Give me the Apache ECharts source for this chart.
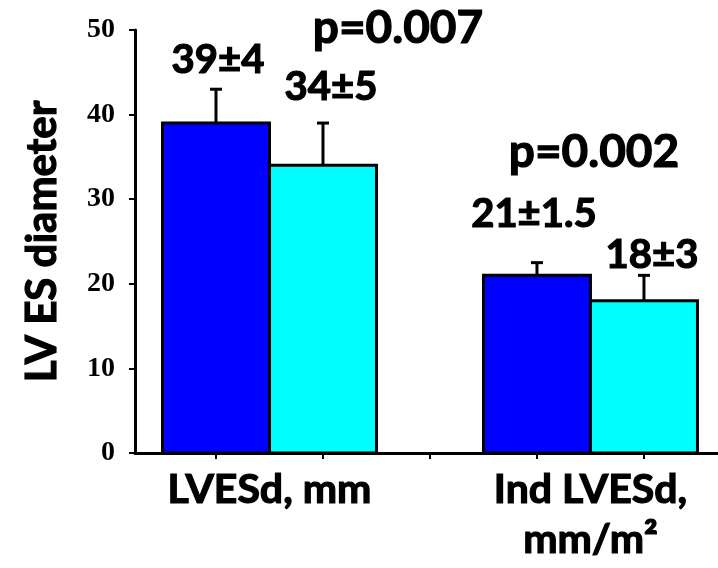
<!DOCTYPE html>
<html>
<head>
<meta charset="utf-8">
<script src="https://cdn.jsdelivr.net/npm/echarts@6/dist/echarts.min.js"></script>
<style>
  html, body { margin: 0; padding: 0; background: #fff; }
  #chart { width: 718px; height: 568px; }
</style>
</head>
<body>
<div id="chart"></div>
<script>
// data
const groups = ['LVESd, mm', 'Ind LVESd,\nmm/m²'];
const seriesNames = ['Series 1', 'Series 2'];
const meanA = [39, 21];
const sdA = [4, 1.5];
const meanB = [34, 18];
const sdB = [5, 3];
const pValues = ['p=0.007', 'p=0.002'];
const barColors = ['#0000FF', '#00FFFF'];

// label nudges [dx, baseline above cap] per bar, in px
const labelShift = [[2, 16], [8, 23], [-3, 36], [8, 7]];

const font = 'Lato';
const chart = echarts.init(document.getElementById('chart'));

function buildData(means, sds, j) {
  return means.map((m, i) => [1 + 3 * i + j, m, sds[i], i * 2 + j]);
}

function renderBar(params, api) {
  const x = api.value(0), m = api.value(1), s = api.value(2), k = api.value(3);
  const tl = api.coord([x - 0.5, m]);
  const br = api.coord([x + 0.5, 0]);
  const p0 = api.coord([x, m]);
  const p1 = api.coord([x, m + s]);
  const sh = labelShift[k];
  return {
    type: 'group',
    children: [
      {
        type: 'rect',
        shape: { x: tl[0], y: tl[1], width: br[0] - tl[0], height: br[1] - tl[1] },
        style: { fill: api.visual('color'), stroke: '#000', lineWidth: 3 }
      },
      {
        type: 'line',
        shape: { x1: p0[0], y1: p0[1], x2: p1[0], y2: p1[1] },
        style: { stroke: '#000', lineWidth: 3 }
      },
      {
        type: 'line',
        shape: { x1: p1[0] - 6, y1: p1[1], x2: p1[0] + 6, y2: p1[1] },
        style: { stroke: '#000', lineWidth: 3 }
      },
      {
        type: 'text',
        style: {
          text: m + '±' + s,
          x: p1[0] + sh[0],
          y: p1[1] - sh[1] - 13,
          align: 'center',
          verticalAlign: 'middle',
          font: 'bold 40px ' + font,
          fill: '#000',
          stroke: '#000',
          lineWidth: 1.2
        }
      }
    ]
  };
}

const option = {
  animation: false,
  grid: { left: 135, right: 0, top: 30, bottom: 115 },
  xAxis: {
    type: 'value',
    min: 0.243,
    max: 5.692,
    splitLine: { show: false },
    axisLine: { show: true, lineStyle: { color: '#000', width: 3 } },
    axisTick: { show: true, customValues: [1, 2, 3, 4, 5], length: 6, lineStyle: { color: '#000', width: 2 } },
    axisLabel: {
      customValues: [1.5, 4.5],
      formatter: (v) => groups[Math.round((v - 1.5) / 3)],
      margin: 12,
      color: '#000',
      fontFamily: font,
      fontWeight: 'bold',
      fontSize: 41,
      lineHeight: 50,
      textBorderColor: '#000',
      textBorderWidth: 1.2
    }
  },
  yAxis: {
    type: 'value',
    min: 0,
    max: 50,
    interval: 10,
    name: 'LV ES diameter',
    nameLocation: 'middle',
    nameGap: 72,
    nameTextStyle: {
      color: '#000', fontFamily: font, fontWeight: 'bold', fontSize: 42,
      textBorderColor: '#000', textBorderWidth: 1.2
    },
    splitLine: { show: false },
    axisLine: { show: true, lineStyle: { color: '#000', width: 3 } },
    axisTick: { show: true, length: 6, lineStyle: { color: '#000', width: 2 } },
    axisLabel: {
      margin: 20,
      color: '#000',
      fontFamily: 'Liberation Serif',
      fontWeight: 'bold',
      fontSize: 28
    }
  },
  graphic: [
    {
      type: 'text', x: 398, y: 28,
      style: {
        text: pValues[0], align: 'center', verticalAlign: 'middle', font: 'bold 46px ' + font,
        fill: '#000', stroke: '#000', lineWidth: 1.2
      }
    },
    {
      type: 'text', x: 594, y: 152,
      style: {
        text: pValues[1], align: 'center', verticalAlign: 'middle', font: 'bold 46px ' + font,
        fill: '#000', stroke: '#000', lineWidth: 1.2
      }
    }
  ],
  series: [
    {
      name: seriesNames[0],
      type: 'custom',
      color: barColors[0],
      renderItem: renderBar,
      encode: { x: 0, y: 1 },
      data: buildData(meanA, sdA, 0)
    },
    {
      name: seriesNames[1],
      type: 'custom',
      color: barColors[1],
      renderItem: renderBar,
      encode: { x: 0, y: 1 },
      data: buildData(meanB, sdB, 1)
    }
  ]
};

chart.setOption(option);
</script>
</body>
</html>
